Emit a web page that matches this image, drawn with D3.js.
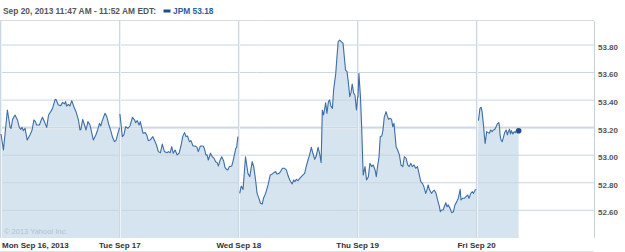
<!DOCTYPE html>
<html><head><meta charset="utf-8">
<script src="https://cdn.jsdelivr.net/npm/d3@7/dist/d3.min.js"></script>
<style>html,body{margin:0;padding:0;background:#fff;overflow:hidden}svg{display:block}</style>
</head><body><svg id="c" width="625" height="252"></svg>
<script>
// ---- data (minute since 9:30 open, price) ----
const dayLabels = ["Mon Sep 16, 2013","Tue Sep 17","Wed Sep 18","Thu Sep 19","Fri Sep 20"];
const yTicks = [52.60, 52.80, 53.00, 53.20, 53.40, 53.60, 53.80];
const prevClose = 53.20;
const headerText = "Sep 20, 2013 11:47 AM - 11:52 AM EDT:";
const legendText = "JPM 53.18";
const copyrightText = "\u00A9 2013 Yahoo! Inc.";

const monData = [[0,53.154],[8,53.038],[21,53.328],[30,53.202],[33,53.195],[38,53.260],[46,53.292],[54,53.256],[60,53.202],[65,53.188],[69,53.202],[73,53.178],[79,53.195],[86,53.110],[95,53.147],[102,53.183],[108,53.256],[113,53.244],[117,53.219],[126,53.219],[132,53.256],[136,53.275],[142,53.244],[150,53.202],[156,53.292],[163,53.316],[169,53.340],[177,53.401],[180,53.406],[188,53.364],[196,53.360],[202,53.384],[208,53.372],[212,53.389],[215,53.357],[221,53.369],[226,53.357],[232,53.396],[239,53.352],[246,53.316],[254,53.256],[259,53.183],[262,53.188],[268,53.260],[274,53.219],[279,53.183],[285,53.244],[292,53.219],[298,53.159],[303,53.110],[311,53.147],[317,53.183],[323,53.231],[327,53.212],[333,53.256],[341,53.304],[347,53.280],[354,53.219],[361,53.171],[366,53.130],[372,53.099],[377,53.106],[385,53.171],[389,53.200]];
const tueData = [[0,53.299],[8,53.135],[13,53.147],[19,53.207],[26,53.195],[33,53.212],[41,53.275],[48,53.256],[52,53.236],[57,53.251],[63,53.219],[67,53.244],[72,53.195],[76,53.159],[83,53.164],[88,53.147],[93,53.106],[99,53.110],[108,53.135],[113,53.110],[120,53.074],[126,53.026],[133,53.018],[139,53.081],[146,53.026],[154,53.018],[159,53.026],[165,53.018],[170,53.062],[175,53.014],[181,53.038],[188,53.002],[194,53.014],[201,53.074],[206,53.135],[212,53.164],[217,53.135],[222,53.139],[228,53.098],[233,53.106],[240,53.067],[247,53.067],[253,53.057],[257,53.026],[264,53.067],[273,53.067],[277,53.050],[282,53.002],[286,53.002],[290,52.965],[297,53.014],[303,52.989],[309,52.977],[314,52.953],[319,52.946],[323,52.922],[329,52.965],[334,52.989],[340,52.960],[345,52.910],[350,52.897],[354,52.893],[359,52.917],[367,52.922],[372,52.965],[380,53.050],[383,53.057],[387,53.135]];
const wedData = [[3,52.723],[8,52.776],[14,52.752],[22,52.989],[30,52.868],[36,52.844],[44,52.953],[49,52.917],[55,52.820],[60,52.723],[66,52.687],[71,52.651],[77,52.646],[81,52.687],[88,52.723],[96,52.784],[103,52.856],[110,52.864],[115,52.873],[121,52.881],[125,52.864],[132,52.868],[137,52.881],[143,52.905],[150,52.905],[156,52.893],[161,52.856],[167,52.820],[175,52.791],[180,52.820],[184,52.808],[189,52.825],[194,52.815],[200,52.832],[205,52.844],[210,52.856],[216,52.868],[221,52.917],[227,52.965],[232,53.001],[238,53.057],[243,53.014],[249,52.970],[254,52.994],[260,53.057],[265,53.014],[270,52.946],[274,53.328],[278,53.292],[285,53.381],[289,53.304],[294,53.389],[298,53.401],[302,53.357],[307,53.340],[311,53.473],[318,53.594],[322,53.715],[326,53.824],[331,53.836],[336,53.824],[342,53.812],[346,53.715],[350,53.619],[355,53.606],[359,53.534],[364,53.425],[368,53.454],[372,53.517],[377,53.449],[381,53.437],[386,53.328],[390,53.425]];
const thuData = [[1,53.420],[4,53.594],[9,53.425],[13,53.207],[18,52.856],[24,52.917],[29,52.820],[35,52.844],[40,52.941],[46,52.917],[51,52.929],[57,52.893],[61,52.844],[65,52.917],[70,52.989],[74,53.135],[79,53.139],[83,53.183],[87,53.275],[93,53.316],[97,53.285],[101,53.260],[106,53.268],[111,53.260],[115,53.207],[119,53.231],[122,53.159],[126,53.062],[131,53.038],[137,53.001],[142,52.929],[148,52.917],[153,52.989],[159,52.977],[164,52.929],[169,52.917],[174,52.941],[179,52.917],[185,52.929],[190,52.905],[196,52.917],[201,52.868],[207,52.808],[212,52.796],[217,52.772],[223,52.723],[227,52.747],[231,52.784],[236,52.747],[242,52.723],[246,52.735],[251,52.747],[257,52.723],[262,52.675],[268,52.626],[271,52.590],[275,52.602],[280,52.602],[284,52.626],[289,52.655],[293,52.626],[297,52.639],[303,52.614],[308,52.583],[314,52.590],[319,52.639],[325,52.663],[330,52.687],[336,52.752],[339,52.675],[344,52.687],[350,52.687],[355,52.699],[361,52.711],[365,52.687],[371,52.723],[376,52.735],[380,52.723],[385,52.747],[389,52.752]];
const friData = [[6,53.251],[11,53.340],[15,53.348],[18,53.316],[22,53.231],[26,53.130],[28,53.086],[31,53.134],[33,53.171],[38,53.164],[42,53.159],[46,53.183],[51,53.171],[55,53.183],[60,53.188],[64,53.207],[68,53.227],[73,53.236],[75,53.207],[77,53.147],[80,53.110],[84,53.098],[88,53.130],[92,53.164],[97,53.183],[101,53.147],[104,53.171],[108,53.188],[111,53.154],[114,53.178],[119,53.154],[123,53.171],[127,53.164],[132,53.183],[136,53.171],[138,53.178]];

const days = [monData, tueData, wedData, thuData, friData];
const minutesPerDay = 390;

// ---- layout ----
const W = 625, H = 252;
const plotTop = 21, plotBottom = 238, plotRight = 594;
const svg = d3.select("#c");

const x = d3.scaleLinear().domain([0, minutesPerDay * days.length]).range([1, 595.5]);
const y = d3.scaleLinear().domain([52.60, 53.80]).range([210.3, 45]);

const pts = [];
days.forEach((d, i) => d.forEach(p => pts.push({t: i * minutesPerDay + p[0], v: p[1], day: i})));

svg.append("rect").attr("width", W).attr("height", H).attr("fill", "#fff");

// area fill
const area = d3.area().x(d => x(d.t)).y0(plotBottom).y1(d => y(d.v));
svg.append("path").datum(pts).attr("d", area).attr("fill", "#d6e4f0");

// prev close band
svg.append("line").attr("x1", 0).attr("x2", plotRight).attr("y1", y(prevClose)).attr("y2", y(prevClose))
  .attr("stroke", "#e4eaf0").attr("stroke-width", 3);

// horizontal gridlines
svg.append("g").selectAll("line").data(yTicks).join("line")
  .attr("x1", 0).attr("x2", plotRight)
  .attr("y1", d => y(d)).attr("y2", d => y(d))
  .attr("stroke", "#c9d6e1").attr("stroke-width", 1);

// vertical day gridlines
const dayStarts = d3.range(days.length).map(i => i * minutesPerDay);
const vg = svg.append("g");
vg.selectAll("line.g").data(dayStarts).join("line").attr("class", "g")
  .attr("x1", d => Math.round(x(d)) - 0.5).attr("x2", d => Math.round(x(d)) - 0.5)
  .attr("y1", plotTop).attr("y2", plotBottom).attr("stroke", "#cbd7e1");
vg.selectAll("line.w").data(dayStarts).join("line").attr("class", "w")
  .attr("x1", d => Math.round(x(d)) + 0.5).attr("x2", d => Math.round(x(d)) + 0.5)
  .attr("y1", plotTop).attr("y2", plotBottom).attr("stroke", "#eef3f7");

// price line, one path per day
const line = d3.line().x(d => x(d.t)).y(d => y(d.v));
svg.append("g").selectAll("path").data(d3.range(days.length)).join("path")
  .attr("d", i => line(pts.filter(p => p.day === i)))
  .attr("fill", "none").attr("stroke", "#3d6ea6").attr("stroke-width", 1.1).attr("stroke-linejoin", "round");

// last point marker
const last = pts[pts.length - 1];
svg.append("circle").attr("cx", x(last.t)).attr("cy", y(last.v)).attr("r", 2.8).attr("fill", "#1f4e8a");

// header
svg.append("rect").attr("x", 0).attr("y", 0).attr("width", W).attr("height", plotTop).attr("fill", "#fff");
svg.append("line").attr("x1", 0).attr("x2", plotRight).attr("y1", 20.5).attr("y2", 20.5).attr("stroke", "#dcdcdc");
svg.append("text").attr("x", 3).attr("y", 14).text(headerText)
  .attr("font-family", "Liberation Sans, Arial, sans-serif").attr("font-weight", "bold").attr("font-size", 8.6)
  .attr("fill", "#555").attr("textLength", 153).attr("lengthAdjust", "spacingAndGlyphs");
svg.append("rect").attr("x", 163.5).attr("y", 9.5).attr("width", 7).attr("height", 3).attr("fill", "#1f4e8a");
svg.append("text").attr("x", 173).attr("y", 14).text(legendText)
  .attr("font-family", "Liberation Sans, Arial, sans-serif").attr("font-weight", "bold").attr("font-size", 8.6)
  .attr("fill", "#2a5c9e").attr("textLength", 40.5).attr("lengthAdjust", "spacingAndGlyphs");

// right border
svg.append("line").attr("x1", plotRight + 0.5).attr("x2", plotRight + 0.5).attr("y1", plotTop).attr("y2", plotBottom)
  .attr("stroke", "#c5d2dc");

// right axis labels
const yAxis = d3.axisRight(y).tickValues(yTicks).tickFormat(d3.format(".2f")).tickSize(0).tickPadding(0);
const ya = svg.append("g").attr("transform", `translate(598,0)`).call(yAxis);
ya.select(".domain").remove();
ya.selectAll("text").attr("font-family", "Liberation Sans, Arial, sans-serif").attr("font-weight", "bold")
  .attr("font-size", 8).attr("fill", "#555").attr("dy", "0.55em");

// copyright
svg.append("text").attr("x", 4).attr("y", 233.5).text(copyrightText)
  .attr("font-family", "Liberation Sans, Arial, sans-serif").attr("font-size", 7.5).attr("fill", "#b3c1cc");

// bottom label strip
svg.append("line").attr("x1", 0).attr("x2", plotRight).attr("y1", 251.5).attr("y2", 251.5).attr("stroke", "#e2e2e2");
const xa = svg.append("g");
xa.selectAll("text").data(dayStarts).join("text")
  .attr("x", (d, i) => i === 0 ? 2 : x(d))
  .attr("y", 248)
  .attr("text-anchor", (d, i) => i === 0 ? "start" : "middle")
  .text((d, i) => dayLabels[i])
  .attr("font-family", "Liberation Sans, Arial, sans-serif").attr("font-weight", "bold")
  .attr("font-size", 8).attr("fill", "#333");
</script></body></html>
